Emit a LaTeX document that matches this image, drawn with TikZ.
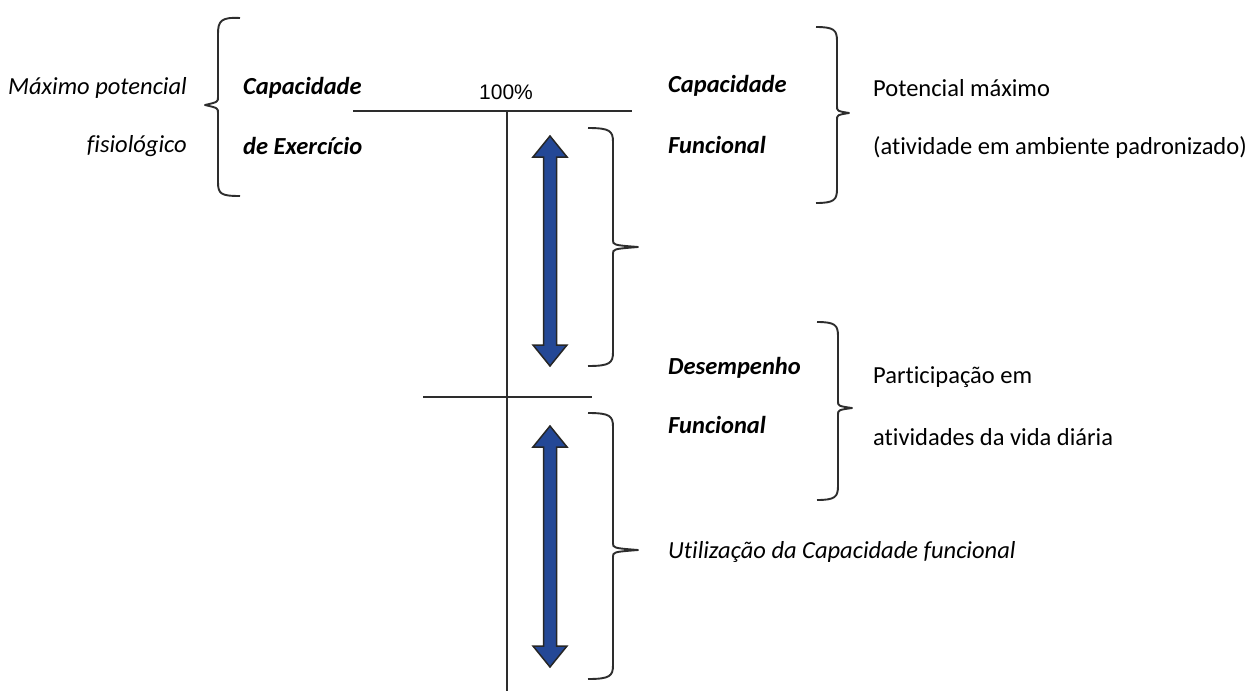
\documentclass[tikz,border=0pt]{standalone}
\usepackage{fontspec}
\setmainfont[Ligatures=NoCommon]{Carlito}
\newfontfamily\arialfont{Liberation Sans}
\definecolor{arrowblue}{RGB}{36,72,150}
\definecolor{linegray}{RGB}{45,45,45}
\newcommand\DrawBraceRight[6]{% x0 xv xt ytop ymid ybot
  \draw[bracestyle] (#1,#4) .. controls ({#2-3},#4) and (#2,{#4+3}) .. (#2,{#4+14})
    -- (#2,{#5-7}) .. controls (#2,{#5-2}) .. (#3,#5) .. controls (#2,{#5+2}) .. (#2,{#5+7})
    -- (#2,{#6-14}) .. controls (#2,{#6-3}) and ({#2-3},#6) .. (#1,#6);}
\newcommand\DrawDArrow[3]{% x ytop ybot
  \draw[darrow] (#1,#2) -- ({#1+17},{#2+21}) -- ({#1+6.5},{#2+21}) -- ({#1+6.5},{#3-21})
    -- ({#1+17},{#3-21}) -- (#1,#3) -- ({#1-17},{#3-21}) -- ({#1-6.5},{#3-21})
    -- ({#1-6.5},{#2+21}) -- ({#1-17},{#2+21}) -- cycle;}
\begin{document}
\begin{tikzpicture}[x=1pt,y=-1pt,
  txt/.style={inner sep=0pt, font=\fontsize{24.5}{28}\selectfont},
  itxt/.style={txt, font=\fontsize{24.5}{28}\selectfont\itshape},
  btxt/.style={txt, font=\fontsize{24.5}{28}\selectfont\bfseries\itshape},
  axis/.style={draw=linegray, line width=1.8pt},
  bracestyle/.style={draw=linegray, line width=1.9pt, line join=round},
  darrow/.style={fill=arrowblue, draw=black!85, line width=1.5pt, line join=miter}]
\useasboundingbox (0,0) rectangle (1251,691);
% axes
\coordinate (tl) at (353,111); \coordinate (tr) at (632,111);
\coordinate (vt) at (507,111); \coordinate (vb) at (507,691);
\coordinate (ml) at (423,397); \coordinate (mr) at (592,397);
\draw[axis] (tl) -- (tr);
\draw[axis] (vt) -- (vb);
\draw[axis] (ml) -- (mr);
\node[inner sep=0pt, font=\arialfont\fontsize{21}{24}\selectfont] (pct) at (506,92) {100\%};
% blue arrows
\DrawDArrow{550}{136}{366}
\DrawDArrow{550}{426}{667}
% left brace
\draw[bracestyle] (240,18) .. controls (221,17) and (218,21) .. (218,34)
  -- (218,97) .. controls (218,102) .. (205,105) .. controls (218,108) .. (218,113)
  -- (218,182) .. controls (218,194) and (221,196) .. (240,196);
% right braces
\DrawBraceRight{588}{613}{638}{128}{247}{366}
\DrawBraceRight{588}{613}{638}{413}{550}{679}
\DrawBraceRight{816}{837}{849}{27}{113}{203}
\DrawBraceRight{817}{838}{852}{322}{408}{500}
% texts
\node[itxt, anchor=east] (maxpot) at (187,88) {Máximo potencial};
\node[itxt, anchor=east] (fisio) at (187,146) {fisiológico};
\node[btxt, anchor=west] (capex1) at (243,88) {Capacidade};
\node[btxt, anchor=west] (capex2) at (243,146) {de Exercício};
\node[btxt, anchor=west] (capf1) at (668,86) {Capacidade};
\node[btxt, anchor=west] (capf2) at (668,145) {Funcional};
\node[txt, anchor=west] (potmax) at (873,88) {Potencial máximo};
\node[txt, anchor=west] (ativ) at (873,148) {(atividade em ambiente padronizado)};
\node[btxt, anchor=west] (des1) at (668,368) {Desempenho};
\node[btxt, anchor=west] (des2) at (668,425) {Funcional};
\node[txt, anchor=west] (part1) at (873,377) {Participação em};
\node[txt, anchor=west] (part2) at (873,437) {atividades da vida diária};
\node[itxt, anchor=west] (util) at (668,552) {Utilização da Capacidade funcional};
\end{tikzpicture}
\end{document}
